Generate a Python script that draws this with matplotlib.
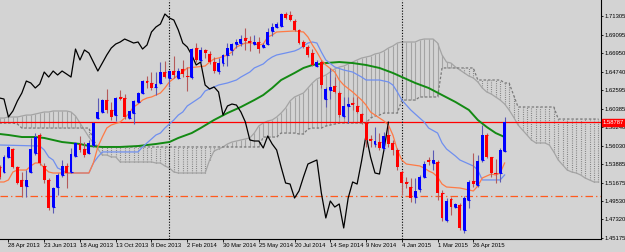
import matplotlib.pyplot as plt
import numpy as np

# GBPUSD weekly candles, bar 0 = week of 14 Apr 2013, bar 113 = week of 14 Jun 2015
opens = [1.5351, 1.5292, 1.5469, 1.5563, 1.5351, 1.5198, 1.5127, 1.5292, 1.5516, 1.5728,
         1.5363, 1.5198, 1.4879, 1.5115, 1.5257, 1.5363, 1.5292, 1.5480, 1.5622, 1.5563,
         1.5516, 1.5610, 1.5928, 1.5999, 1.6140, 1.6023, 1.5963, 1.6176, 1.6164, 1.5928,
         1.5987, 1.6117, 1.6223, 1.6364, 1.6341, 1.6294, 1.6341, 1.6470, 1.6400, 1.6482,
         1.6400, 1.6506, 1.6423, 1.6411, 1.6753, 1.6612, 1.6730, 1.6683, 1.6588, 1.6482,
         1.6576, 1.6671, 1.6730, 1.6800, 1.6812, 1.6871, 1.6836, 1.6800, 1.6824, 1.6765,
         1.6800, 1.6954, 1.7001, 1.7013, 1.7154, 1.7142, 1.7071, 1.6965, 1.6824, 1.6765,
         1.6694, 1.6541, 1.6588, 1.6152, 1.6258, 1.6305, 1.6223, 1.5952, 1.6070, 1.6105,
         1.6070, 1.5975, 1.5869, 1.5681, 1.5622, 1.5645, 1.5575, 1.5728, 1.5634, 1.5551,
         1.5292, 1.5174, 1.5115, 1.4997, 1.5091, 1.5233, 1.5433, 1.5398, 1.5410, 1.5044,
         1.4726, 1.4973, 1.4879, 1.4903, 1.4608, 1.4962, 1.5186, 1.5139, 1.5433, 1.5728,
         1.5469, 1.5280, 1.5280, 1.5539]
highs = [1.5374, 1.5492, 1.5598, 1.5575, 1.5363, 1.5292, 1.5315, 1.5693, 1.5751, 1.5751,
         1.5398, 1.5221, 1.5115, 1.5280, 1.5433, 1.5398, 1.5575, 1.5645, 1.5716, 1.5645,
         1.5669, 1.5881, 1.6164, 1.6152, 1.6270, 1.6117, 1.6176, 1.6258, 1.6211, 1.6011,
         1.6140, 1.6235, 1.6376, 1.6423, 1.6470, 1.6470, 1.6588, 1.6600, 1.6494, 1.6659,
         1.6518, 1.6612, 1.6529, 1.6753, 1.6812, 1.6765, 1.6741, 1.6718, 1.6647, 1.6635,
         1.6683, 1.6812, 1.6812, 1.6859, 1.6906, 1.6989, 1.6895, 1.6906, 1.6883, 1.6812,
         1.6989, 1.7048, 1.7060, 1.7166, 1.7178, 1.7189, 1.7095, 1.6977, 1.6848, 1.6789,
         1.6741, 1.6612, 1.6612, 1.6294, 1.6518, 1.6411, 1.6247, 1.6176, 1.6176, 1.6176,
         1.6176, 1.5987, 1.5881, 1.5728, 1.5822, 1.5751, 1.5763, 1.5846, 1.5669, 1.5575,
         1.5315, 1.5233, 1.5221, 1.5221, 1.5257, 1.5422, 1.5469, 1.5551, 1.5433, 1.5080,
         1.4985, 1.4997, 1.4926, 1.4926, 1.5009, 1.5198, 1.5516, 1.5492, 1.5846, 1.5751,
         1.5469, 1.5445, 1.5575, 1.5940]
lows = [1.5209, 1.5280, 1.5457, 1.5339, 1.5150, 1.4997, 1.4997, 1.5280, 1.5492, 1.5374,
        1.5162, 1.4844, 1.4809, 1.5021, 1.5233, 1.5103, 1.5280, 1.5469, 1.5528, 1.5469,
        1.5504, 1.5587, 1.5916, 1.5987, 1.5987, 1.5905, 1.5893, 1.6140, 1.5916, 1.5916,
        1.5857, 1.6105, 1.6211, 1.6282, 1.6258, 1.6199, 1.6329, 1.6400, 1.6294, 1.6400,
        1.6388, 1.6411, 1.6247, 1.6388, 1.6588, 1.6576, 1.6635, 1.6565, 1.6459, 1.6447,
        1.6541, 1.6541, 1.6671, 1.6753, 1.6777, 1.6730, 1.6718, 1.6789, 1.6694, 1.6753,
        1.6789, 1.6895, 1.6989, 1.7001, 1.7095, 1.7071, 1.6954, 1.6800, 1.6753, 1.6647,
        1.6541, 1.6529, 1.6282, 1.6058, 1.6152, 1.6223, 1.5940, 1.5928, 1.5869, 1.6023,
        1.5987, 1.5857, 1.5587, 1.5587, 1.5587, 1.5551, 1.5551, 1.5587, 1.5492, 1.5315,
        1.5021, 1.5103, 1.4938, 1.4926, 1.5056, 1.5221, 1.5374, 1.5315, 1.4962, 1.4714,
        1.4702, 1.4785, 1.4867, 1.4608, 1.4573, 1.4867, 1.5115, 1.5115, 1.5410, 1.5457,
        1.5233, 1.5162, 1.5174, 1.5528]
closes = [1.5233, 1.5469, 1.5587, 1.5351, 1.5162, 1.5115, 1.5198, 1.5563, 1.5704, 1.5398,
          1.5198, 1.4867, 1.5103, 1.5257, 1.5363, 1.5280, 1.5504, 1.5634, 1.5551, 1.5492,
          1.5634, 1.5869, 1.5999, 1.6140, 1.6023, 1.5940, 1.6164, 1.6152, 1.5940, 1.6011,
          1.6129, 1.6223, 1.6364, 1.6341, 1.6282, 1.6329, 1.6470, 1.6411, 1.6482, 1.6435,
          1.6482, 1.6447, 1.6411, 1.6741, 1.6612, 1.6730, 1.6694, 1.6588, 1.6482, 1.6576,
          1.6671, 1.6753, 1.6800, 1.6824, 1.6859, 1.6836, 1.6812, 1.6824, 1.6741, 1.6789,
          1.6942, 1.7001, 1.7036, 1.7154, 1.7107, 1.7083, 1.6965, 1.6812, 1.6765, 1.6671,
          1.6553, 1.6588, 1.6317, 1.6270, 1.6294, 1.6235, 1.5963, 1.6070, 1.6093, 1.6081,
          1.5999, 1.5881, 1.5669, 1.5657, 1.5657, 1.5575, 1.5716, 1.5622, 1.5551, 1.5351,
          1.5162, 1.5150, 1.4985, 1.5068, 1.5233, 1.5386, 1.5410, 1.5433, 1.5044, 1.4750,
          1.4950, 1.4879, 1.4915, 1.4632, 1.4985, 1.5174, 1.5150, 1.5422, 1.5728, 1.5469,
          1.5280, 1.5268, 1.5551, 1.58787]

# Tenkan-sen (orange), read at its turning points
tenkan_bar = [0, 1, 2, 3, 4, 6, 7, 8, 9, 10, 11, 12, 20, 21, 22, 23, 24, 25, 27, 28,
              29, 30, 31, 32, 33, 34, 36, 37, 38, 40, 41, 42, 44, 46, 47, 48, 49, 51, 52, 53,
              55, 57, 58, 59, 60, 61, 62, 66, 68, 69, 70, 71, 72, 73, 75, 76, 77, 79, 81, 82,
              83, 85, 86, 87, 88, 89, 90, 91, 94, 95, 96, 97, 98, 99, 100, 103, 105, 106, 107, 108,
              110, 111, 112, 113]
tenkan = [1.5174, 1.5174, 1.5198, 1.5292, 1.5315, 1.5315, 1.5363, 1.5398, 1.5398, 1.5339,
          1.5292, 1.5280, 1.5280, 1.5398, 1.5587, 1.5704, 1.5810, 1.5846, 1.5881, 1.5928,
          1.5987, 1.6058, 1.6093, 1.6140, 1.6164, 1.6176, 1.6223, 1.6282, 1.6353, 1.6435,
          1.6470, 1.6518, 1.6529, 1.6541, 1.6588, 1.6624, 1.6635, 1.6671, 1.6706, 1.6765,
          1.6812, 1.6812, 1.6789, 1.6800, 1.6883, 1.6906, 1.6942, 1.6954, 1.6942, 1.6883,
          1.6789, 1.6706, 1.6612, 1.6553, 1.6470, 1.6376, 1.6317, 1.6235, 1.6140, 1.6081,
          1.5999, 1.5928, 1.5893, 1.5846, 1.5728, 1.5551, 1.5433, 1.5386, 1.5363, 1.5339,
          1.5304, 1.5280, 1.5233, 1.5150, 1.5115, 1.5103, 1.5080, 1.5068, 1.5127, 1.5221,
          1.5268, 1.5257, 1.5280, 1.5398]

# Kijun-sen (blue)
kijun_bar = [0, 9, 10, 11, 12, 13, 14, 15, 20, 21, 22, 23, 31, 32, 33, 35, 36, 37, 39, 40,
             41, 42, 44, 45, 46, 48, 49, 51, 53, 54, 56, 57, 59, 60, 61, 62, 64, 66, 67, 68,
             69, 70, 71, 72, 73, 75, 77, 79, 81, 82, 85, 87, 88, 89, 90, 91, 92, 93, 95, 96,
             98, 99, 100, 102, 103, 105, 106, 107, 108, 112, 113]
kijun = [1.5610, 1.5598, 1.5551, 1.5469, 1.5433, 1.5339, 1.5315, 1.5280, 1.5280, 1.5398,
         1.5469, 1.5528, 1.5528, 1.5587, 1.5634, 1.5728, 1.5751, 1.5810, 1.5905, 1.5963,
         1.5999, 1.6070, 1.6140, 1.6176, 1.6247, 1.6294, 1.6317, 1.6341, 1.6376, 1.6411,
         1.6470, 1.6518, 1.6565, 1.6612, 1.6647, 1.6671, 1.6694, 1.6718, 1.6741, 1.6777,
         1.6812, 1.6824, 1.6812, 1.6706, 1.6612, 1.6529, 1.6494, 1.6470, 1.6411, 1.6376,
         1.6376, 1.6353, 1.6317, 1.6235, 1.6140, 1.6081, 1.6023, 1.5975, 1.5881, 1.5810,
         1.5751, 1.5634, 1.5563, 1.5480, 1.5433, 1.5386, 1.5363, 1.5315, 1.5198, 1.5198,
         1.5257]

# slow moving average (green)
ma_bar = [0, 2, 5, 8, 10, 12, 14, 16, 18, 20, 23, 27, 31, 35, 38, 40, 43, 45, 48, 51,
          54, 57, 59, 61, 63, 66, 68, 70, 73, 76, 79, 82, 85, 88, 91, 93, 96, 99, 102, 105,
          107, 109, 111, 113]
ma = [1.5740, 1.5728, 1.5704, 1.5704, 1.5693, 1.5669, 1.5645, 1.5634, 1.5622, 1.5598,
      1.5587, 1.5587, 1.5598, 1.5622, 1.5645, 1.5693, 1.5751, 1.5810, 1.5905, 1.5987,
      1.6058, 1.6140, 1.6199, 1.6282, 1.6376, 1.6459, 1.6518, 1.6553, 1.6576, 1.6588,
      1.6576, 1.6553, 1.6518, 1.6459, 1.6388, 1.6341, 1.6282, 1.6199, 1.6117, 1.6023,
      1.5905, 1.5822, 1.5751, 1.5704]

# Kumo, one value per bar 0..134 (drawn 26 bars ahead of price)
span_a = [1.5928, 1.5928, 1.5940, 1.5940, 1.5940, 1.5952, 1.5963, 1.5963, 1.5975, 1.5987,
          1.5999, 1.5999, 1.6011, 1.6011, 1.6011, 1.6011, 1.5999, 1.5952, 1.5869, 1.5787,
          1.5704, 1.5634, 1.5563, 1.5492, 1.5492, 1.5469, 1.5469, 1.5410, 1.5410, 1.5410,
          1.5410, 1.5410, 1.5410, 1.5410, 1.5410, 1.5398, 1.5398, 1.5363, 1.5339, 1.5292,
          1.5280, 1.5280, 1.5280, 1.5280, 1.5280, 1.5280, 1.5280, 1.5433, 1.5539, 1.5563,
          1.5587, 1.5622, 1.5645, 1.5657, 1.5669, 1.5681, 1.5693, 1.5751, 1.5834, 1.5869,
          1.5893, 1.5905, 1.5940, 1.5987, 1.6046, 1.6129, 1.6176, 1.6199, 1.6223, 1.6282,
          1.6341, 1.6388, 1.6411, 1.6435, 1.6470, 1.6506, 1.6529, 1.6541, 1.6565, 1.6588,
          1.6612, 1.6635, 1.6647, 1.6659, 1.6683, 1.6694, 1.6718, 1.6753, 1.6777, 1.6812,
          1.6824, 1.6824, 1.6824, 1.6824, 1.6848, 1.6859, 1.6859, 1.6859, 1.6812, 1.6671,
          1.6588, 1.6576, 1.6529, 1.6494, 1.6459, 1.6423, 1.6400, 1.6353, 1.6282, 1.6235,
          1.6211, 1.6176, 1.6140, 1.6093, 1.6023, 1.5940, 1.5846, 1.5787, 1.5728, 1.5669,
          1.5634, 1.5634, 1.5634, 1.5610, 1.5528, 1.5433, 1.5374, 1.5315, 1.5292, 1.5280,
          1.5257, 1.5221, 1.5198, 1.5174, 1.5174]
span_b = ([1.5869] * 4 + [1.5857] + [1.5810] * 16 + [1.5669] + [1.5587] * 37
          + [1.5704] * 4 + [1.5751] * 4 + [1.5740] * 2 + [1.5799] + [1.5810] * 3
          + [1.5834, 1.5846, 1.5857] + [1.5869] * 7 + [1.5928, 1.5952, 1.5963]
          + [1.5987] * 4 + [1.6140] * 4 + [1.6176] * 5 + [1.6518] * 8 + [1.6376] * 6
          + [1.6341] * 2 + [1.6199] + [1.6058] * 9 + [1.5916] * 10)

last_price = 1.58787
level_line = 1.5009
year_breaks = [38, 90]
date_bars = [2, 10, 18, 26, 34, 42, 50, 58, 66, 74, 82, 90, 98, 106]
date_labels = ['28 Apr 2013', '23 Jun 2013', '18 Aug 2013', '13 Oct 2013', '8 Dec 2013',
               '2 Feb 2014', '30 Mar 2014', '25 May 2014', '20 Jul 2014', '14 Sep 2014',
               '9 Nov 2014', '4 Jan 2015', '1 Mar 2015', '26 Apr 2015']
price_ticks = [1.71305, 1.69095, 1.66950, 1.64740, 1.62595, 1.60385, 1.58240,
               1.56030, 1.53885, 1.51675, 1.49530, 1.47320, 1.45175]

plt.rcParams['font.family'] = ['Liberation Sans', 'DejaVu Sans']
bg = '#d3d3d3'
fs = 4.2

fig = plt.figure(figsize=(6.25, 2.52), dpi=100, facecolor=bg)
ax = fig.add_axes([0, 13 / 252, 601 / 625, 239 / 252], facecolor=bg)

bars = np.arange(len(closes))
o = np.array(opens)
c = np.array(closes)
up = c >= o

# cloud: solid hatch where span A is on top, dotted hatch where span B is on top
kumo_x = np.arange(len(span_a))
sa = np.array(span_a)
sb = np.array(span_b)
bull = sa >= sb
ax.vlines(kumo_x[bull], sb[bull], sa[bull], color='#a4a4a4', lw=0.8, zorder=1)
ax.vlines(kumo_x[~bull], sa[~bull], sb[~bull], color='#7a7a7a', lw=0.8,
          linestyles=(0, (0.8, 1.2)), zorder=1)
ax.plot(kumo_x, sa, color='#a4a4a4', lw=0.9, zorder=1)
ax.plot(kumo_x, sb, color='#7a7a7a', lw=0.9, ls=(0, (2, 1.5)), zorder=1)

# horizontal levels and year separators
ax.axhline(last_price, color='#ff0000', lw=0.9, zorder=2)
ax.axhline(level_line, color='#ff5a1e', lw=0.9, ls=(0, (6, 2.5, 1, 2.5)), zorder=2)
for b in year_breaks:
    ax.axvline(b, color='black', lw=0.8, ls=(0, (1, 1.5)), zorder=2)

# indicator lines
ax.plot(ma_bar, ma, color='#138a13', lw=1.4, zorder=3)
ax.plot(kijun_bar, kijun, color='#6f8fef', lw=0.9, zorder=3)
ax.plot(tenkan_bar, tenkan, color='#ff7a45', lw=0.9, zorder=3)
ax.plot(bars[26:] - 26, c[26:], color='black', lw=0.9, zorder=3)  # chikou span

# candles
ax.vlines(bars[up], np.array(lows)[up], np.array(highs)[up], color='#5a5ab4', lw=0.8, zorder=4)
ax.vlines(bars[~up], np.array(lows)[~up], np.array(highs)[~up], color='#b45a5a', lw=0.8, zorder=4)
ax.bar(bars[up], c[up] - o[up], bottom=o[up], width=0.65, color='#0000ff', zorder=5)
ax.bar(bars[~up], c[~up] - o[~up], bottom=o[~up], width=0.65, color='#ff0000', zorder=5)
ax.hlines(o, bars - 0.33, bars + 0.33, colors=np.where(up, '#0000ff', '#ff0000'), lw=0.8, zorder=5)

ax.set_xlim(0.11, 134.56)
ax.set_ylim(1.45021, 1.7319)

for s in ['top', 'left']:
    ax.spines[s].set_visible(False)
for s in ['right', 'bottom']:
    ax.spines[s].set_color('black')
    ax.spines[s].set_linewidth(0.8)

ax.yaxis.tick_right()
ax.set_yticks(price_ticks)
ax.set_yticklabels([f'{v:.5f}' for v in price_ticks])
ax.tick_params(axis='y', direction='out', length=1.5, width=0.6, labelsize=fs, pad=0.8)
ax.set_xticks(date_bars)
ax.set_xticklabels(date_labels)
ax.tick_params(axis='x', direction='out', length=2, width=0.6, labelsize=fs, pad=1)
for lbl in ax.get_xticklabels():
    lbl.set_ha('left')

# current price tag on the price scale
ax.text(1.003, last_price, f'{last_price:.5f}', transform=ax.get_yaxis_transform(),
        ha='left', va='center', fontsize=fs, color='white',
        bbox=dict(boxstyle='square,pad=0.2', fc='#ff0000', ec='#ff0000'), zorder=6)

fig.savefig('out.png', dpi=100, facecolor=bg)
